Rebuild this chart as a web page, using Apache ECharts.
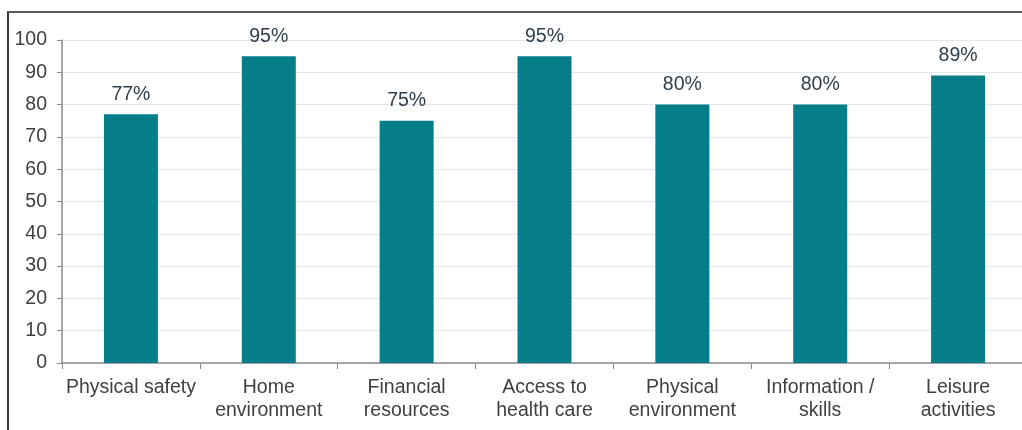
<!DOCTYPE html>
<html>
<head>
<meta charset="utf-8">
<script src="https://cdn.jsdelivr.net/npm/echarts@6/dist/echarts.min.js"></script>
<style>
    html, body {
        margin: 0;
        padding: 0;
        width: 1022px;
        height: 430px;
        overflow: hidden;
        background: #fff;
    }
    .frame {
        position: absolute;
        left: 7px;
        top: 11px;
        width: 1040px;
        height: 440px;
        border-left: 2px solid #3a3a3a;
        border-top: 2px solid #5a5a5a;
    }
    .chart-root {
        position: absolute;
        left: 0;
        top: 0;
        width: 1040px;
        height: 430px;
    }
</style>
</head>
<body>
<div class="frame"></div>
<div class="chart-root" id="chart_dom"></div>
<script>
var categories = [
    'Physical safety',
    'Home\nenvironment',
    'Financial\nresources',
    'Access to\nhealth care',
    'Physical\nenvironment',
    'Information /\nskills',
    'Leisure\nactivities',
]
var values = [77, 95, 75, 95, 80, 80, 89]
var yTicks = { min: 0, max: 100, interval: 10 }

var chart = echarts.init(document.getElementById('chart_dom'))
var options = {
    animation: false,
    textStyle: {
        fontFamily: 'Liberation Sans, Arial, sans-serif',
    },
    grid: {
        top: 40,
        bottom: 67,
        left: 62,
        right: 13,
        containLabel: false,
    },
    xAxis: {
        type: 'category',
        data: categories,
        axisLine: {
            show: true,
            lineStyle: { color: '#8c8c8c', width: 1.5 },
        },
        axisTick: {
            show: true,
            length: 6,
            lineStyle: { color: '#8c8c8c' },
        },
        axisLabel: {
            color: '#404040',
            fontSize: 19.5,
            lineHeight: 23,
            margin: 13,
            interval: 0,
        },
        splitLine: { show: false },
    },
    yAxis: {
        type: 'value',
        min: yTicks.min,
        max: yTicks.max,
        interval: yTicks.interval,
        axisLine: {
            show: true,
            lineStyle: { color: '#8c8c8c', width: 1.5 },
        },
        axisTick: {
            show: true,
            length: 5,
            lineStyle: { color: '#8c8c8c' },
        },
        axisLabel: {
            color: '#404040',
            fontSize: 19.5,
            margin: 15,
        },
        splitLine: {
            show: true,
            lineStyle: { color: '#dfe7f1', width: 1 },
        },
    },
    series: [
        {
            type: 'bar',
            data: values,
            barWidth: 54,
            itemStyle: { color: '#057e8a' },
            label: {
                show: true,
                position: 'top',
                distance: 10,
                formatter: '{c}%',
                color: '#2f3e4c',
                fontSize: 19.5,
            },
        },
    ],
}
chart.setOption(options)
</script>
</body>
</html>
